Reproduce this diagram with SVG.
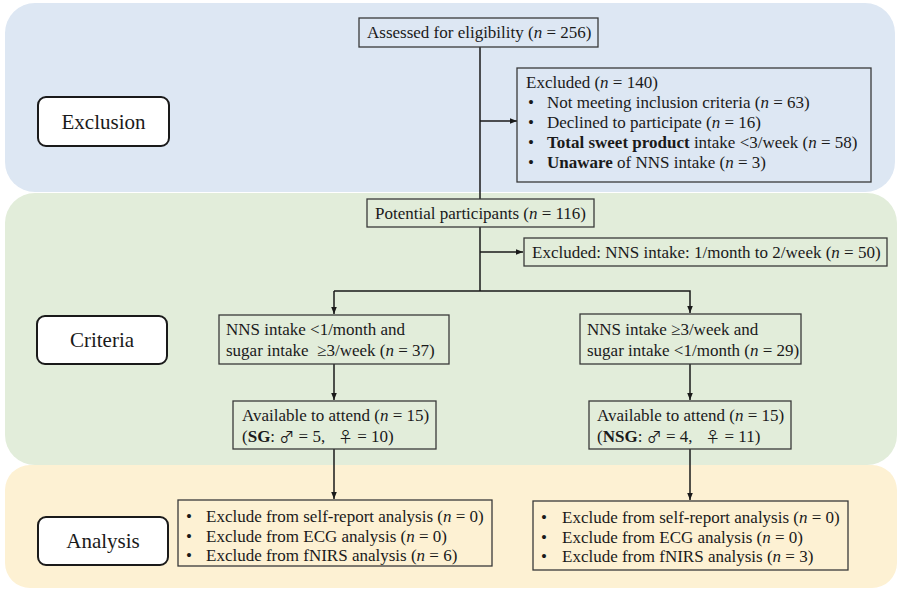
<svg xmlns="http://www.w3.org/2000/svg" width="900" height="597" viewBox="0 0 900 597" font-family="Liberation Serif, DejaVu Serif, serif">
<defs>
<style>
text{font-family:'Liberation Serif','DejaVu Serif',serif;font-size:17px;fill:#1a1a1a}
.lbl{font-size:21px;text-anchor:middle}
.box{fill:none;stroke:#3a3a3a;stroke-width:1.3}
.tag{fill:#fff;stroke:#1a1a1a;stroke-width:2}
.ln{fill:none;stroke:#1a1a1a;stroke-width:1.5}
.sym{font-family:'Noto Sans CJK SC','DejaVu Sans',sans-serif;font-size:15px}
</style>
<marker id="ah" markerWidth="8" markerHeight="8" refX="7" refY="4" orient="auto" markerUnits="userSpaceOnUse">
<path d="M0,1.2 L7,4 L0,6.8 Z" fill="#1a1a1a"/>
</marker>
</defs>
<rect width="900" height="597" fill="#ffffff"/>
<g id="panels">
<rect x="5" y="3" width="890" height="189" rx="30" fill="#dde7f3"/>
<rect x="5" y="193" width="892" height="272" rx="30" fill="#e2edda"/>
<rect x="5" y="465" width="892" height="123" rx="25" fill="#fdf1d3"/>
</g>
<g id="exclusion-tag"><rect class="tag" x="38" y="97" width="131" height="49" rx="8"/><text class="lbl" x="103.5" y="129">Exclusion</text></g>
<g id="criteria-tag"><rect class="tag" x="37" y="316" width="130" height="48" rx="8"/><text class="lbl" x="102" y="347">Criteria</text></g>
<g id="analysis-tag"><rect class="tag" x="38" y="517" width="130" height="48" rx="8"/><text class="lbl" x="103" y="548">Analysis</text></g>
<g id="connectors">
<path class="ln" d="M480,47 V199"/>
<path class="ln" d="M480,121 H517" marker-end="url(#ah)"/>
<path class="ln" d="M480,227 V291"/>
<path class="ln" d="M480,252 H523" marker-end="url(#ah)"/>
<path class="ln" d="M334,291 H690 V313" marker-end="url(#ah)"/>
<path class="ln" d="M334,291 V314" marker-end="url(#ah)"/>
<path class="ln" d="M334,364 V400" marker-end="url(#ah)"/>
<path class="ln" d="M690,364 V400" marker-end="url(#ah)"/>
<path class="ln" d="M334,449 V499" marker-end="url(#ah)"/>
<path class="ln" d="M690,449 V500" marker-end="url(#ah)"/>
</g>
<g id="assessed"><rect class="box" x="359" y="18" width="239" height="29"/><text x="367" y="38">Assessed for eligibility (<tspan font-style="italic">n</tspan> = 256)</text></g>
<g id="excluded140"><rect class="box" x="517" y="68" width="354" height="114"/>
<text x="526" y="88">Excluded (<tspan font-style="italic">n</tspan> = 140)</text>
<text x="528" y="108">•</text><text x="547" y="108">Not meeting inclusion criteria (<tspan font-style="italic">n</tspan> = 63)</text>
<text x="528" y="128">•</text><text x="547" y="128">Declined to participate (<tspan font-style="italic">n</tspan> = 16)</text>
<text x="528" y="148">•</text><text x="547" y="148"><tspan font-weight="bold">Total sweet product</tspan> intake &lt;3/week (<tspan font-style="italic">n</tspan> = 58)</text>
<text x="528" y="168">•</text><text x="547" y="168"><tspan font-weight="bold">Unaware</tspan> of NNS intake (<tspan font-style="italic">n</tspan> = 3)</text>
</g>
<g id="potential"><rect class="box" x="367" y="199" width="227" height="28"/><text x="375" y="219">Potential participants (<tspan font-style="italic">n</tspan> = 116)</text></g>
<g id="excluded50"><rect class="box" x="524" y="238" width="363" height="28"/><text x="532" y="258">Excluded: NNS intake: 1/month to 2/week (<tspan font-style="italic">n</tspan> = 50)</text></g>
<g id="nns-low"><rect class="box" x="219" y="315" width="230" height="49"/>
<text x="226" y="335">NNS intake &lt;1/month and</text>
<text x="226" y="356" xml:space="preserve">sugar intake  ≥3/week (<tspan font-style="italic">n</tspan> = 37)</text></g>
<g id="nns-high"><rect class="box" x="580" y="314" width="221" height="50"/>
<text x="587" y="335">NNS intake ≥3/week and</text>
<text x="587" y="356">sugar intake &lt;1/month (<tspan font-style="italic">n</tspan> = 29)</text></g>
<g id="sg"><rect class="box" x="233" y="401" width="203" height="48"/>
<text x="242" y="421">Available to attend (<tspan font-style="italic">n</tspan> = 15)</text>
<text x="242" y="442" xml:space="preserve">(<tspan font-weight="bold">SG</tspan>: <tspan class="sym">♂</tspan> = 5,   <tspan class="sym">♀</tspan> = 10)</text></g>
<g id="nsg"><rect class="box" x="589" y="401" width="202" height="48"/>
<text x="597" y="421">Available to attend (<tspan font-style="italic">n</tspan> = 15)</text>
<text x="597" y="442" xml:space="preserve">(<tspan font-weight="bold">NSG</tspan>: <tspan class="sym">♂</tspan> = 4,   <tspan class="sym">♀</tspan> = 11)</text></g>
<g id="analysis-sg"><rect class="box" x="178" y="500" width="314" height="66"/>
<text x="186" y="522">•</text><text x="206" y="522">Exclude from self-report analysis (<tspan font-style="italic">n</tspan> = 0)</text>
<text x="186" y="542">•</text><text x="206" y="542">Exclude from ECG analysis (<tspan font-style="italic">n</tspan> = 0)</text>
<text x="186" y="561">•</text><text x="206" y="561">Exclude from fNIRS analysis (<tspan font-style="italic">n</tspan> = 6)</text></g>
<g id="analysis-nsg"><rect class="box" x="533" y="501" width="315" height="69"/>
<text x="541" y="523">•</text><text x="562" y="523">Exclude from self-report analysis (<tspan font-style="italic">n</tspan> = 0)</text>
<text x="541" y="543">•</text><text x="562" y="543">Exclude from ECG analysis (<tspan font-style="italic">n</tspan> = 0)</text>
<text x="541" y="562">•</text><text x="562" y="562">Exclude from fNIRS analysis (<tspan font-style="italic">n</tspan> = 3)</text></g>
</svg>
